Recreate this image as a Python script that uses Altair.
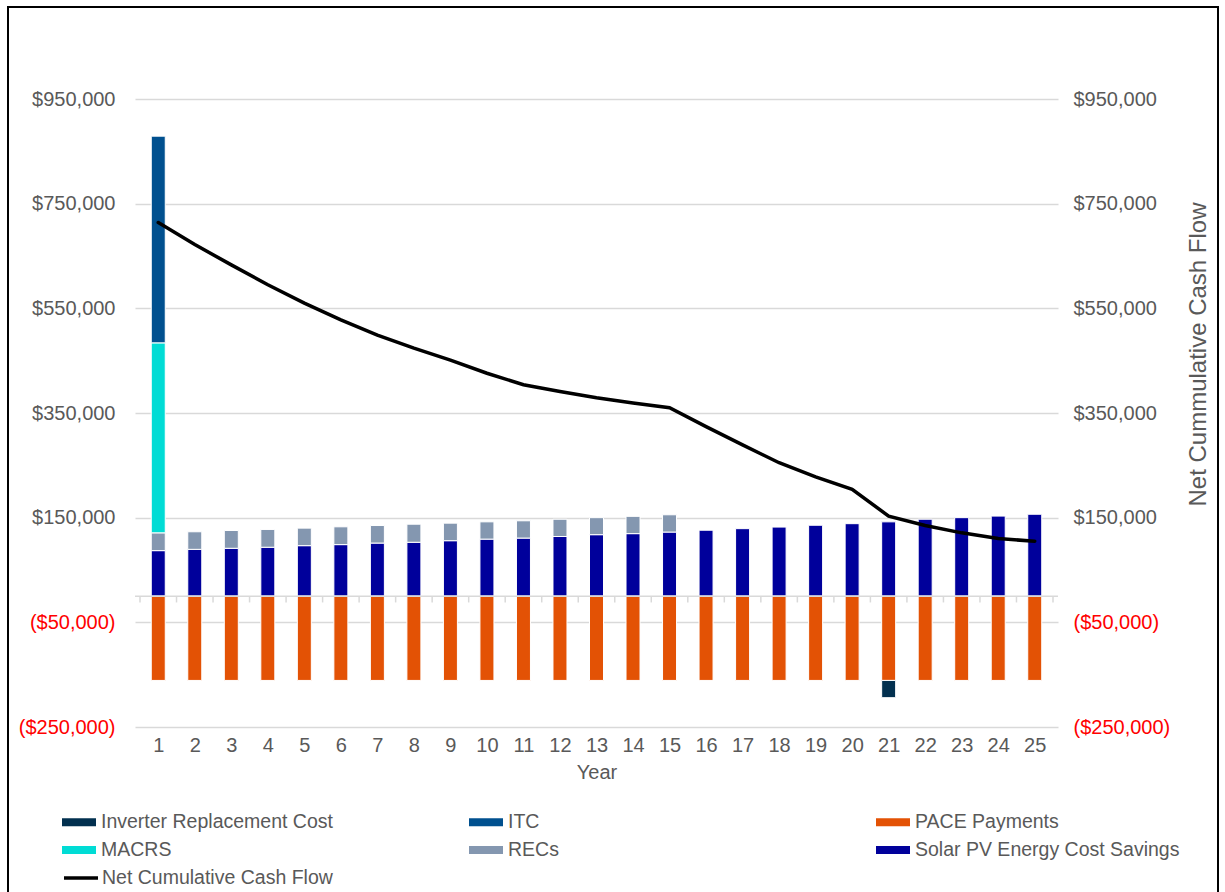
import altair as alt
import pandas as pd

years = list(range(1, 26))
series_order = ["Inverter Replacement Cost", "ITC", "PACE Payments",
                "MACRS", "RECs", "Solar PV Energy Cost Savings"]
series_colors = ["#02304f", "#00508f", "#e35205", "#00dcd5", "#8497b0", "#00009b"]
stack_rank = {"Solar PV Energy Cost Savings": 1, "RECs": 2, "MACRS": 3, "ITC": 4,
              "PACE Payments": 5, "Inverter Replacement Cost": 6}

solar = [87000, 89500, 91500, 93500, 96500, 98500, 101500, 103000, 106000, 109000,
         111000, 114000, 117500, 119500, 122500, 126000, 129000, 132000, 135500, 138500,
         142000, 147000, 150000, 153000, 156500]
recs = [34000, 33500, 34000, 34000, 33500, 34000, 33500, 34500, 33500, 33000,
        33000, 33000, 32500, 33000, 33000]
macrs_year1 = 363000
itc_year1 = 395000
pace = [-161000] * 25
inverter_year, inverter_cost = 21, -33000
net_cum = [714000, 672000, 633000, 595000, 560000, 528000, 499000, 474000, 451000, 426000,
           404000, 391000, 379000, 369000, 360000, 324000, 289000, 255000, 228000, 204000,
           153000, 135000, 121000, 110000, 105000]

y_ticks = [-250000, -50000, 150000, 350000, 550000, 750000, 950000]
boundaries = [i + 0.5 for i in range(0, 26)]

rows = []
for i, yr in enumerate(years):
    rows.append({"Year": yr, "Series": "Solar PV Energy Cost Savings", "Value": solar[i]})
    rows.append({"Year": yr, "Series": "PACE Payments", "Value": pace[i]})
    if i < len(recs):
        rows.append({"Year": yr, "Series": "RECs", "Value": recs[i]})
rows.append({"Year": 1, "Series": "MACRS", "Value": macrs_year1})
rows.append({"Year": 1, "Series": "ITC", "Value": itc_year1})
rows.append({"Year": inverter_year, "Series": "Inverter Replacement Cost", "Value": inverter_cost})
bars_df = pd.DataFrame(rows)
bars_df["Rank"] = bars_df["Series"].map(stack_rank)

line_df = pd.DataFrame({"Year": years, "Net": net_cum, "Name": "Net Cumulative Cash Flow"})
zero_df = pd.DataFrame({"y": [0]})
tick_df = pd.DataFrame({"Year": boundaries, "y": [0] * len(boundaries),
                        "y2": [-12000] * len(boundaries)})
frame_df = pd.DataFrame({"k": [0]})

FONT = "Liberation Sans"
GRAY = "#595959"
label_expr = ("datum.value < 0 ? '($' + format(-datum.value, ',') + ')' : "
              "'$' + format(datum.value, ',')")
label_color = alt.condition("datum.value < 0", alt.value("#ff0000"), alt.value(GRAY))

xscale = alt.Scale(domain=[0.5, 25.5], nice=False, zero=False)
yscale = alt.Scale(domain=[-250000, 950000], nice=False, zero=False)
xaxis = alt.Axis(values=years, title="Year", grid=False, domain=False, ticks=False,
                 labelPadding=8, titlePadding=7, labelFlush=False, format="d")

frame = alt.Chart(frame_df).mark_rect(fill=None, stroke="black", strokeWidth=2).encode(
    x=alt.value(-127), x2=alt.value(1083), y=alt.value(-92), y2=alt.value(820))

bars = alt.Chart(bars_df).mark_bar(size=14, stroke="white", strokeWidth=1).encode(
    x=alt.X("Year:Q", scale=xscale, axis=xaxis),
    y=alt.Y("Value:Q", stack="zero", scale=yscale,
            axis=alt.Axis(orient="left", values=y_ticks, title=None, grid=True,
                          gridColor="#d9d9d9", gridWidth=1.5, domain=False, ticks=False,
                          labelExpr=label_expr, labelColor=label_color, labelPadding=20)),
    color=alt.Color("Series:N", scale=alt.Scale(domain=series_order, range=series_colors),
                    legend=alt.Legend(title=None, orient="none", legendX=-73, legendY=706,
                                      direction="horizontal",
                                      columns=3, gridAlign="all", columnPadding=103,
                                      rowPadding=1, labelLimit=500, labelOffset=5,
                                      symbolType="M-1,-0.235L1,-0.235L1,0.235L-1,0.235Z",
                                      symbolSize=1156, symbolStrokeWidth=0)),
    order=alt.Order("Rank:Q"),
)

zero_rule = alt.Chart(zero_df).mark_rule(color="#d9d9d9", strokeWidth=1.5).encode(
    y=alt.Y("y:Q", scale=yscale, axis=None))

ticks = alt.Chart(tick_df).mark_rule(color="#d9d9d9", strokeWidth=1.5).encode(
    x=alt.X("Year:Q", scale=xscale, axis=xaxis),
    y=alt.Y("y:Q", scale=yscale, axis=None),
    y2="y2:Q")

line = alt.Chart(line_df).mark_line(strokeWidth=3.5, strokeCap="round").encode(
    x=alt.X("Year:Q", scale=xscale, axis=xaxis),
    y=alt.Y("Net:Q", scale=yscale,
            axis=alt.Axis(orient="right", values=y_ticks, title="Net Cummulative Cash Flow",
                          titleAngle=270, titleX=147, titleY=255, titleAlign="center",
                          titleBaseline="alphabetic", titleFontSize=24,
                          grid=False, domain=False, ticks=False,
                          labelExpr=label_expr, labelColor=label_color, labelPadding=15)),
    stroke=alt.Stroke("Name:N", scale=alt.Scale(domain=["Net Cumulative Cash Flow"], range=["black"]),
                      legend=alt.Legend(title=None, orient="none", legendX=-73, legendY=760,
                                        labelLimit=500, labelOffset=2, symbolType="stroke",
                                        symbolSize=1156, symbolStrokeWidth=3.5)),
)

chart = alt.layer(frame, bars, zero_rule, ticks, line).resolve_scale(
    y="independent", stroke="independent", color="independent"
).properties(
    width=923, height=628,
    autosize=alt.AutoSizeParams(type="none"),
    padding={"left": 135, "top": 99, "right": 167, "bottom": 165},
).configure_view(stroke=None).configure_axis(
    labelFont=FONT, labelFontSize=20, labelColor=GRAY,
    titleFont=FONT, titleFontSize=20, titleColor=GRAY, titleFontWeight="normal",
).configure_legend(
    labelFont=FONT, labelFontSize=19.5, labelColor=GRAY,
)

chart.save("out.html", embed_options={"renderer": "svg", "actions": False})
